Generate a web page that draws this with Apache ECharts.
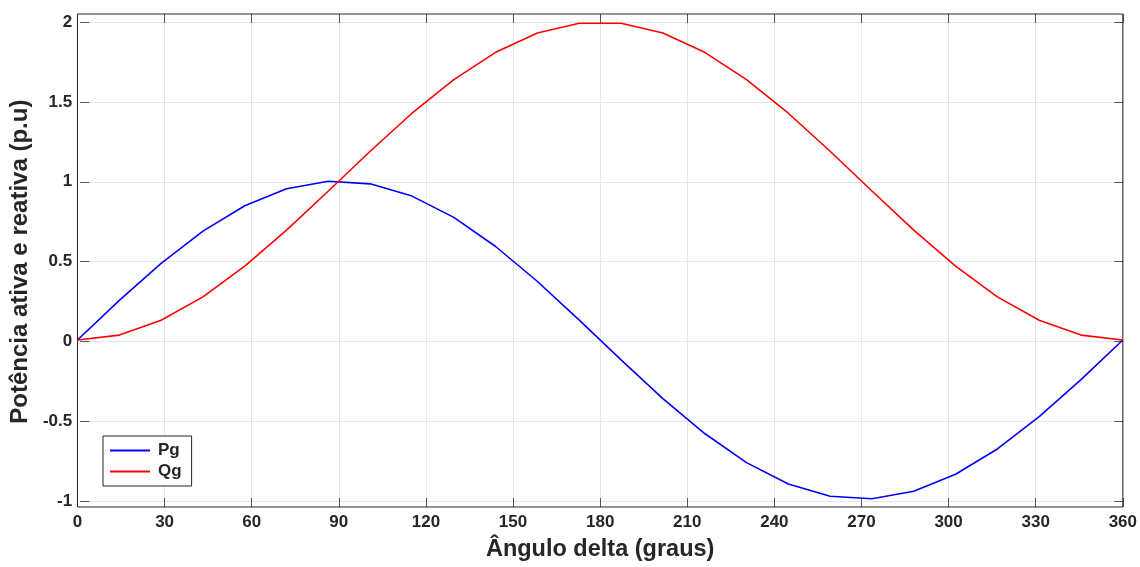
<!DOCTYPE html>
<html>
<head>
<meta charset="utf-8">
<script src="https://cdn.jsdelivr.net/npm/echarts@6/dist/echarts.min.js"></script>
<style>
html,body{margin:0;padding:0;background:#fff;}
#c{width:1140px;height:567px;}
</style>
</head>
<body>
<div id="c"></div>
<script>
// Data
var deltaDeg = [0,14.4,28.8,43.2,57.6,72,86.4,100.8,115.2,129.6,144,158.4,172.8,187.2,201.6,216,230.4,244.8,259.2,273.6,288,302.4,316.8,331.2,345.6,360];
var Pg = [0,0.249,0.482,0.685,0.844,0.951,0.998,0.982,0.905,0.771,0.588,0.368,0.125,-0.125,-0.368,-0.588,-0.771,-0.905,-0.982,-0.998,-0.951,-0.844,-0.685,-0.482,-0.249,0];
var Qg = [0,0.031,0.124,0.271,0.464,0.691,0.937,1.187,1.426,1.637,1.809,1.930,1.992,1.992,1.930,1.809,1.637,1.426,1.187,0.937,0.691,0.464,0.271,0.124,0.031,0];
var seriesNames = ['Pg','Qg'];
var xTitle = 'Ângulo delta (graus)';
var yTitle = 'Potência ativa e reativa (p.u)';

function pairs(xs, ys){ return xs.map(function(x,i){ return [x, ys[i]]; }); }

var FONT = '"Liberation Sans", Arial, sans-serif';
var TXT = '#262626';
var chart = echarts.init(document.getElementById('c'), null, {renderer:'canvas'});
chart.setOption({
  animation:false,
  backgroundColor:'#fff',
  textStyle:{fontFamily:FONT},
  grid:[
    {left:77.5, right:16.7, top:14, bottom:57.7, show:true, borderColor:TXT, borderWidth:1, backgroundColor:'transparent', z:5},
    {left:77.5, right:16.7, top:21.99, bottom:65.69}
  ],
  legend:{
    left:103, top:436, orient:'vertical',
    data:seriesNames,
    icon:'rect', itemWidth:40, itemHeight:2, itemGap:4,
    padding:[6,10,6,7],
    backgroundColor:'#fff', borderColor:TXT, borderWidth:1,
    textStyle:{fontFamily:FONT, fontWeight:'bold', fontSize:17, color:TXT, padding:[0,0,0,3]}
  },
  xAxis:[
    {gridIndex:0, type:'value', min:0, max:360, interval:30, position:'bottom',
     name:xTitle, nameLocation:'middle', nameGap:31,
     nameTextStyle:{fontFamily:FONT, fontWeight:'bold', fontSize:23.5, color:TXT},
     axisLine:{show:false, onZero:false},
     axisTick:{show:true, inside:true, length:9, lineStyle:{color:'#555'}},
     axisLabel:{fontFamily:FONT, fontWeight:'bold', fontSize:17, color:TXT, margin:7},
     splitLine:{show:true, lineStyle:{color:'#e6e6e6', width:1}}},
    {gridIndex:0, type:'value', min:0, max:360, interval:30, position:'top',
     axisLine:{show:false, onZero:false},
     axisTick:{show:true, inside:true, length:9, lineStyle:{color:'#555'}},
     axisLabel:{show:false}, splitLine:{show:false}},
    {gridIndex:1, type:'value', min:0, max:360, show:false}
  ],
  yAxis:[
    {gridIndex:0, type:'value', min:-1.05, max:2.05, show:false, splitLine:{show:false}},
    {gridIndex:1, type:'value', min:-1, max:2, interval:0.5, position:'left',
     name:yTitle, nameLocation:'middle', nameGap:46,
     nameTextStyle:{fontFamily:FONT, fontWeight:'bold', fontSize:24, color:TXT},
     axisLine:{show:false, onZero:false},
     axisTick:{show:true, inside:true, length:9, lineStyle:{color:'#555'}},
     axisLabel:{fontFamily:FONT, fontWeight:'bold', fontSize:17, color:TXT, margin:8},
     splitLine:{show:true, lineStyle:{color:'#e6e6e6', width:1}}},
    {gridIndex:1, type:'value', min:-1, max:2, interval:0.5, position:'right',
     axisLine:{show:false, onZero:false},
     axisTick:{show:true, inside:true, length:9, lineStyle:{color:'#555'}},
     axisLabel:{show:false}, splitLine:{show:false}}
  ],
  series:[
    {name:seriesNames[0], type:'line', xAxisIndex:0, yAxisIndex:0, data:pairs(deltaDeg,Pg),
     symbol:'none', lineStyle:{color:'#0000ff', width:1.6}, itemStyle:{color:'#0000ff'}, z:3},
    {name:seriesNames[1], type:'line', xAxisIndex:0, yAxisIndex:0, data:pairs(deltaDeg,Qg),
     symbol:'none', lineStyle:{color:'#ff0000', width:1.6}, itemStyle:{color:'#ff0000'}, z:3}
  ]
});
</script>
</body>
</html>
